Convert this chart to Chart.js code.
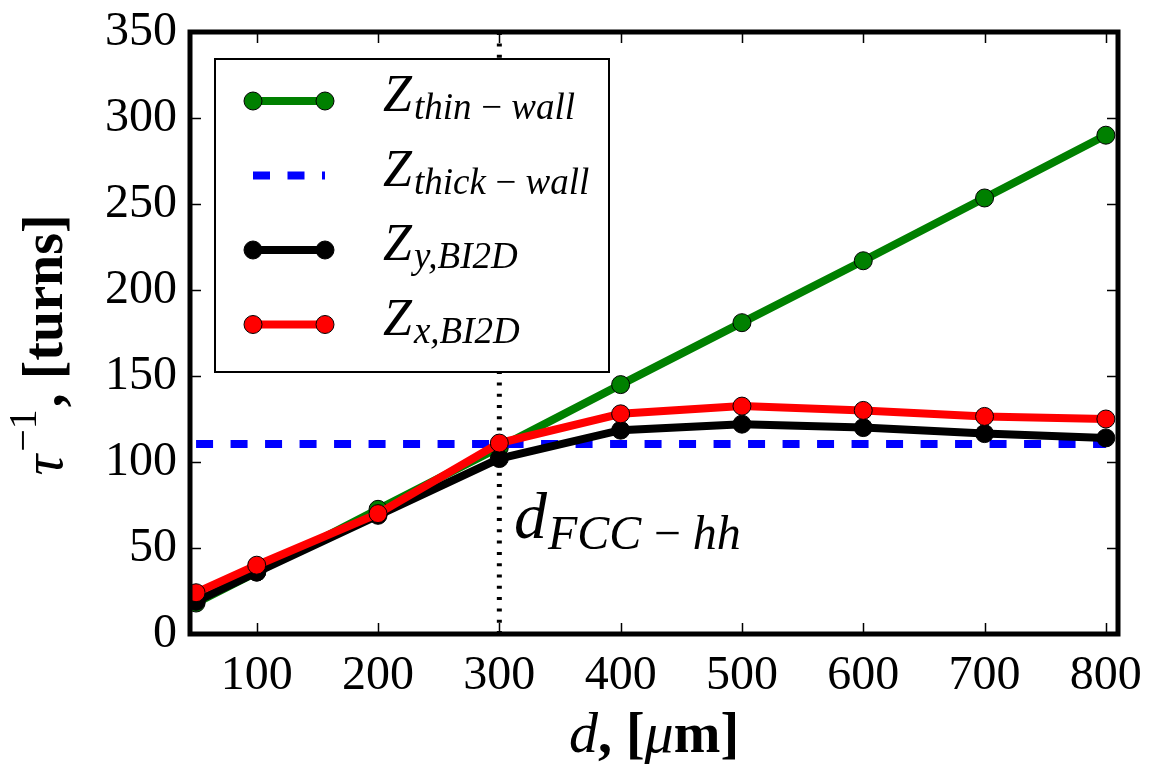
<!DOCTYPE html>
<html>
<head>
<meta charset="utf-8">
<script src="https://cdn.jsdelivr.net/npm/chart.js@4.4.0/dist/chart.umd.min.js"></script>
<style>
  html, body { margin: 0; padding: 0; background: #fff; }
  #wrap { width: 1149px; height: 767px; }
</style>
</head>
<body>
<div id="wrap"><canvas id="chart" width="1149" height="767"></canvas></div>
<script>
// data
const dValues = [50, 100, 200, 300, 400, 500, 600, 700, 800];
const thinWall = [18, 36, 72.5, 108.5, 145, 181, 217, 253.5, 290];
const yBI2D = [19, 36, 69, 102, 118.5, 122, 120, 116.5, 114];
const xBI2D = [24, 40, 70, 111, 128, 132.5, 130, 126.5, 125];
const thickWallRange = [50, 800];
const thickWallLevel = [110.5, 110.5];
const fccD = 300;
const xTicks = [100, 200, 300, 400, 500, 600, 700, 800];
const yTicks = [0, 50, 100, 150, 200, 250, 300, 350];

const SERIF = '"Liberation Serif", "DejaVu Serif", serif';

const toPoints = (xs, ys) => xs.map((x, i) => ({x: x, y: ys[i]}));

function drawRuns(ctx, runs, x, y, align) {
  let total = 0;
  runs.forEach(r => {
    ctx.font = r.font;
    r.w = ctx.measureText(r.text).width;
    total += r.w + (r.gap || 0);
  });
  let cx = align === 'center' ? x - total / 2 : x;
  ctx.textAlign = 'left';
  ctx.textBaseline = 'alphabetic';
  runs.forEach(r => {
    ctx.font = r.font;
    ctx.fillText(r.text, cx, y + (r.dy || 0));
    cx += r.w + (r.gap || 0);
  });
}

// Legend entries (drawn inside the plot, matplotlib style)
const legendItems = [
  {sub: 'thin\u2009\u2212\u2009wall', color: '#008000', dashed: false},
  {sub: 'thick\u2009\u2212\u2009wall', color: '#0000ff', dashed: true},
  {sub: 'y,BI2D', color: '#000000', dashed: false},
  {sub: 'x,BI2D', color: '#ff0000', dashed: false}
];

const framePlugin = {
  id: 'frame',
  afterDatasetsDraw(chart) {
    const ctx = chart.ctx;
    const a = chart.chartArea;
    const xs = chart.scales.x, ys = chart.scales.y;
    ctx.save();
    ctx.strokeStyle = '#000';
    // inward ticks
    ctx.lineWidth = 1.5;
    ctx.beginPath();
    xTicks.forEach(v => {
      const px = Math.round(xs.getPixelForValue(v)) + 0.5;
      ctx.moveTo(px, a.bottom); ctx.lineTo(px, a.bottom - 11);
      ctx.moveTo(px, a.top); ctx.lineTo(px, a.top + 11);
    });
    yTicks.forEach(v => {
      const py = Math.round(ys.getPixelForValue(v)) + 0.5;
      ctx.moveTo(a.left, py); ctx.lineTo(a.left + 11, py);
      ctx.moveTo(a.right, py); ctx.lineTo(a.right - 11, py);
    });
    ctx.stroke();
    // frame
    ctx.lineWidth = 5;
    ctx.strokeRect(a.left, a.top, a.right - a.left, a.bottom - a.top);

    // legend
    const lx = a.left + 25, ly = a.top + 27, lw = 394, lh = 313;
    ctx.fillStyle = '#fff';
    ctx.fillRect(lx, ly, lw, lh);
    ctx.lineWidth = 2;
    ctx.strokeStyle = '#000';
    ctx.strokeRect(lx, ly, lw, lh);
    legendItems.forEach((it, i) => {
      const cy = ly + 42 + i * 74.5;
      const x0 = lx + 38, x1 = lx + 110;
      ctx.strokeStyle = it.color;
      ctx.lineWidth = 8;
      ctx.setLineDash(it.dashed ? [17, 17.5] : []);
      ctx.beginPath(); ctx.moveTo(x0, cy); ctx.lineTo(x1, cy); ctx.stroke();
      ctx.setLineDash([]);
      if (!it.dashed) {
        [x0, x1].forEach(px => {
          ctx.beginPath();
          ctx.arc(px, cy, 9, 0, Math.PI * 2);
          ctx.fillStyle = it.color; ctx.fill();
          ctx.lineWidth = 1; ctx.strokeStyle = '#000'; ctx.stroke();
        });
      }
      ctx.fillStyle = '#000';
      drawRuns(ctx, [
        {text: 'Z', font: 'italic 52px ' + SERIF, gap: 2},
        {text: it.sub, font: 'italic 37px ' + SERIF, dy: 8}
      ], lx + 168, cy + 10, 'left');
    });

    // d_FCC-hh annotation
    const ax = xs.getPixelForValue(312), ay = ys.getPixelForValue(56);
    drawRuns(ctx, [
      {text: 'd', font: 'italic 66px ' + SERIF, gap: 1},
      {text: 'FCC\u2009\u2212\u2009hh', font: 'italic 48px ' + SERIF, dy: 11}
    ], ax, ay, 'left');
    ctx.restore();
  },
  afterDraw(chart) {
    const ctx = chart.ctx;
    const a = chart.chartArea;
    ctx.save();
    ctx.fillStyle = '#000';
    // x title: d, [μm]
    drawRuns(ctx, [
      {text: 'd', font: 'italic 58px ' + SERIF},
      {text: ', [', font: 'bold 56px ' + SERIF},
      {text: '\u03bc', font: 'italic 58px ' + SERIF},
      {text: 'm]', font: 'bold 56px ' + SERIF}
    ], (a.left + a.right) / 2, 752, 'center');
    // y title: τ^-1, [turns]
    ctx.translate(62, 345);
    ctx.rotate(-Math.PI / 2);
    drawRuns(ctx, [
      {text: '\u03c4', font: 'italic 58px ' + SERIF, gap: 3},
      {text: '\u22121', font: '40px ' + SERIF, dy: -26, gap: 2},
      {text: ', [turns]', font: 'bold 56px ' + SERIF}
    ], 0, 0, 'center');
    ctx.restore();
  }
};

const ctx = document.getElementById('chart').getContext('2d');
const tickFont = {family: SERIF, size: 48};
const noPad = s => { s.paddingLeft = 0; s.paddingRight = 0; s.paddingTop = 0; s.paddingBottom = 0; };

new Chart(ctx, {
  type: 'line',
  data: {
    datasets: [
      {
        label: 'd_FCC-hh',
        data: toPoints([fccD, fccD], [0, 350]),
        borderColor: '#000', borderWidth: 5, borderDash: [3, 8.3],
        pointRadius: 0, order: 5
      },
      {
        label: 'Z thin-wall',
        data: toPoints(dValues, thinWall),
        borderColor: '#008000', backgroundColor: '#008000',
        borderWidth: 8, pointRadius: 9, pointBorderColor: '#000',
        pointBorderWidth: 1, pointBackgroundColor: '#008000', order: 4
      },
      {
        label: 'Z thick-wall',
        data: toPoints(thickWallRange, thickWallLevel),
        borderColor: '#0000ff', borderWidth: 8, borderDash: [17, 17.5],
        pointRadius: 0, order: 3
      },
      {
        label: 'Z y,BI2D',
        data: toPoints(dValues, yBI2D),
        borderColor: '#000', backgroundColor: '#000',
        borderWidth: 8, pointRadius: 9, pointBorderColor: '#000',
        pointBorderWidth: 1, pointBackgroundColor: '#000', order: 2
      },
      {
        label: 'Z x,BI2D',
        data: toPoints(dValues, xBI2D),
        borderColor: '#ff0000', backgroundColor: '#ff0000',
        borderWidth: 8, pointRadius: 9, pointBorderColor: '#000',
        pointBorderWidth: 1, pointBackgroundColor: '#ff0000', order: 1
      }
    ]
  },
  options: {
    responsive: false,
    animation: false,
    devicePixelRatio: 1,
    layout: {padding: {left: 0, right: 31, top: 32, bottom: 0}},
    plugins: {legend: {display: false}, tooltip: {enabled: false}},
    elements: {line: {tension: 0}},
    scales: {
      x: {
        type: 'linear', min: 45, max: 810,
        afterBuildTicks: s => { s.ticks = xTicks.map(v => ({value: v})); },
        afterFit: s => { s.height = 133; noPad(s); },
        grid: {display: false, drawTicks: false},
        border: {display: false},
        ticks: {font: tickFont, color: '#000', padding: 14, maxRotation: 0}
      },
      y: {
        type: 'linear', min: 0, max: 350,
        afterBuildTicks: s => { s.ticks = yTicks.map(v => ({value: v})); },
        afterFit: s => { s.width = 190; noPad(s); },
        grid: {display: false, drawTicks: false},
        border: {display: false},
        ticks: {font: tickFont, color: '#000', padding: 13}
      }
    }
  },
  plugins: [framePlugin]
});
</script>
</body>
</html>
